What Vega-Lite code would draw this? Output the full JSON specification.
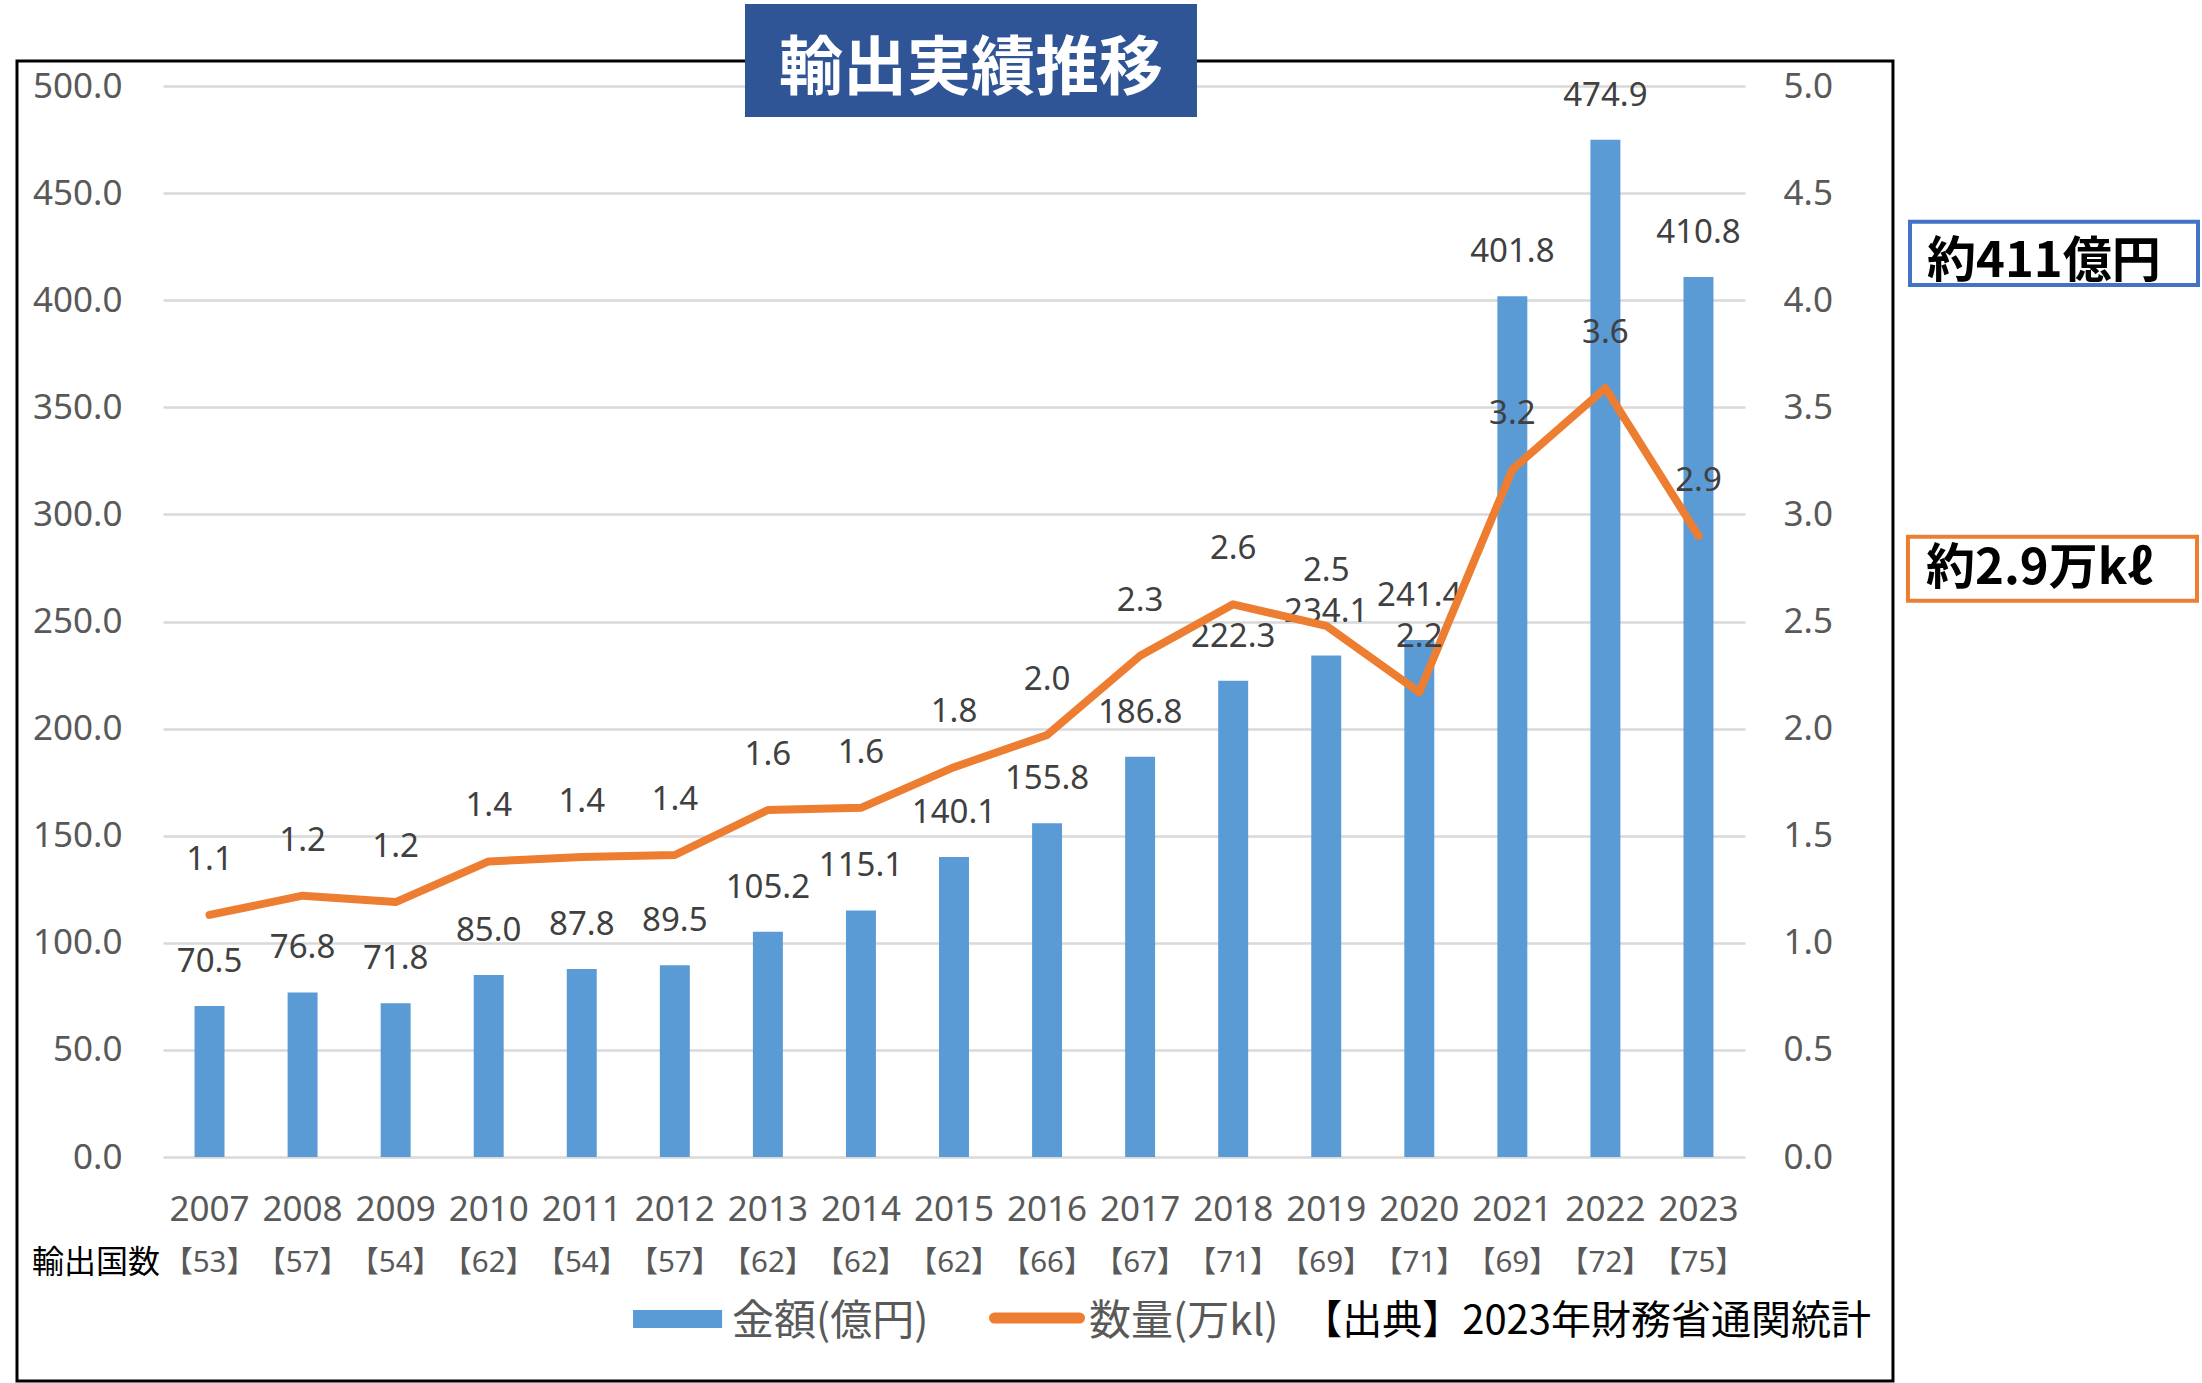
{
  "$schema": "https://vega.github.io/schema/vega-lite/v6.json",
  "width": 1582,
  "height": 1071,
  "autosize": {"type": "none"},
  "padding": {"left": 163, "top": 86, "right": 457, "bottom": 226},
  "background": "white",
  "config": {"view": {"stroke": null}, "font": "Noto Sans, Noto Sans CJK JP"},
  "layer": [
    {
      "data": {"values": [
        {"year": "2007", "amount": 70.5, "volume": 1.13, "countries": "【53】"},
        {"year": "2008", "amount": 76.8, "volume": 1.22, "countries": "【57】"},
        {"year": "2009", "amount": 71.8, "volume": 1.19, "countries": "【54】"},
        {"year": "2010", "amount": 85.0, "volume": 1.38, "countries": "【62】"},
        {"year": "2011", "amount": 87.8, "volume": 1.40, "countries": "【54】"},
        {"year": "2012", "amount": 89.5, "volume": 1.41, "countries": "【57】"},
        {"year": "2013", "amount": 105.2, "volume": 1.62, "countries": "【62】"},
        {"year": "2014", "amount": 115.1, "volume": 1.63, "countries": "【62】"},
        {"year": "2015", "amount": 140.1, "volume": 1.82, "countries": "【62】"},
        {"year": "2016", "amount": 155.8, "volume": 1.97, "countries": "【66】"},
        {"year": "2017", "amount": 186.8, "volume": 2.34, "countries": "【67】"},
        {"year": "2018", "amount": 222.3, "volume": 2.58, "countries": "【71】"},
        {"year": "2019", "amount": 234.1, "volume": 2.48, "countries": "【69】"},
        {"year": "2020", "amount": 241.4, "volume": 2.17, "countries": "【71】"},
        {"year": "2021", "amount": 401.8, "volume": 3.21, "countries": "【69】"},
        {"year": "2022", "amount": 474.9, "volume": 3.59, "countries": "【72】"},
        {"year": "2023", "amount": 410.8, "volume": 2.90, "countries": "【75】"}
      ]},
      "encoding": {
        "x": {
          "field": "year", "type": "nominal", "sort": null,
          "scale": {"paddingInner": 0.678, "paddingOuter": 0.339},
          "axis": {
            "title": null, "labelAngle": 0, "domain": false, "ticks": false, "tickSize": 0,
            "grid": false, "labelPadding": 35, "labelFontSize": 35, "labelColor": "#595959",
            "labelBaseline": "top", "labelOverlap": false, "labelBound": false, "labelFont": "Noto Sans"
          }
        }
      },
      "layer": [
        {
          "encoding": {
            "y": {
              "field": "amount", "type": "quantitative",
              "scale": {"domain": [0, 500], "nice": false, "zero": false},
              "axis": {
                "title": null, "orient": "left", "domain": false, "ticks": false, "tickSize": 0,
                "grid": true, "gridColor": "#D9D9D9", "gridWidth": 2.5,
                "values": [0, 50, 100, 150, 200, 250, 300, 350, 400, 450, 500],
                "format": ".1f", "labelFontSize": 35, "labelColor": "#595959",
                "labelPadding": 41, "labelFont": "Noto Sans"
              }
            }
          },
          "layer": [
            {"mark": {"type": "bar", "color": "#5B9BD5"}},
            {
              "mark": {"type": "text", "dy": -44, "fontSize": 33, "color": "#404040", "font": "Noto Sans"},
              "encoding": {"text": {"field": "amount", "type": "quantitative", "format": ".1f"}}
            }
          ]
        },
        {
          "encoding": {
            "y": {
              "field": "volume", "type": "quantitative",
              "scale": {"domain": [0, 5], "nice": false, "zero": false},
              "axis": {
                "title": null, "orient": "right", "domain": false, "ticks": false, "tickSize": 0,
                "grid": false, "values": [0, 0.5, 1, 1.5, 2, 2.5, 3, 3.5, 4, 4.5, 5],
                "format": ".1f", "labelFontSize": 35, "labelColor": "#595959",
                "labelPadding": 38, "labelFont": "Noto Sans"
              }
            }
          },
          "layer": [
            {"mark": {"type": "line", "color": "#ED7D31", "strokeWidth": 8, "strokeCap": "round", "strokeJoin": "round"}},
            {
              "mark": {"type": "text", "dy": -55, "fontSize": 33, "color": "#404040", "font": "Noto Sans"},
              "encoding": {"text": {"field": "volume", "type": "quantitative", "format": ".1f"}}
            }
          ]
        },
        {
          "mark": {"type": "text", "fontSize": 29.5, "color": "#595959", "font": "Noto Sans, Noto Sans CJK JP"},
          "encoding": {
            "y": {"datum": -49.5, "type": "quantitative", "scale": {"domain": [0, 500], "nice": false, "zero": false}, "axis": null},
            "text": {"field": "countries", "type": "nominal"}
          }
        }
      ],
      "resolve": {"scale": {"y": "independent"}}
    },
    {
      "data": {"values": [{}]},
      "layer": [
        {
          "mark": {"type": "rect", "filled": false, "color": "#000000", "strokeWidth": 3},
          "encoding": {
            "x": {"datum": -1.569, "type": "quantitative", "scale": {"domain": [0, 17], "nice": false, "zero": false}, "axis": null},
            "x2": {"datum": 18.59},
            "y": {"datum": 511.67, "type": "quantitative", "scale": {"domain": [0, 500], "nice": false, "zero": false}, "axis": null},
            "y2": {"datum": -104.57}
          }
        },
        {
          "mark": {"type": "rect", "color": "#2F5597"},
          "encoding": {
            "x": {"datum": 6.254, "type": "quantitative", "scale": {"domain": [0, 17], "nice": false, "zero": false}, "axis": null},
            "x2": {"datum": 11.111},
            "y": {"datum": 538.28, "type": "quantitative", "scale": {"domain": [0, 500], "nice": false, "zero": false}, "axis": null},
            "y2": {"datum": 485.53}
          }
        },
        {
          "mark": {"type": "text", "text": "輸出実績推移", "font": "Noto Sans CJK JP", "fontSize": 64, "fontWeight": "bold", "color": "#FFFFFF", "align": "center", "baseline": "middle"},
          "encoding": {
            "x": {"datum": 8.683, "type": "quantitative", "scale": {"domain": [0, 17], "nice": false, "zero": false}, "axis": null},
            "y": {"datum": 507.5, "type": "quantitative", "scale": {"domain": [0, 500], "nice": false, "zero": false}, "axis": null}
          }
        },
        {
          "mark": {"type": "rect", "fill": "#FFFFFF", "stroke": "#4472C4", "strokeWidth": 4},
          "encoding": {
            "x": {"datum": 18.773, "type": "quantitative", "scale": {"domain": [0, 17], "nice": false, "zero": false}, "axis": null},
            "x2": {"datum": 21.868},
            "y": {"datum": 436.6, "type": "quantitative", "scale": {"domain": [0, 500], "nice": false, "zero": false}, "axis": null},
            "y2": {"datum": 407.1}
          }
        },
        {
          "mark": {"type": "text", "text": "約411億円", "font": "Noto Sans CJK JP", "fontSize": 49, "fontWeight": "bold", "color": "#000000", "align": "left", "baseline": "middle"},
          "encoding": {
            "x": {"datum": 18.956, "type": "quantitative", "scale": {"domain": [0, 17], "nice": false, "zero": false}, "axis": null},
            "y": {"datum": 418.0, "type": "quantitative", "scale": {"domain": [0, 500], "nice": false, "zero": false}, "axis": null}
          }
        },
        {
          "mark": {"type": "rect", "fill": "#FFFFFF", "stroke": "#ED7D31", "strokeWidth": 4},
          "encoding": {
            "x": {"datum": 18.751, "type": "quantitative", "scale": {"domain": [0, 17], "nice": false, "zero": false}, "axis": null},
            "x2": {"datum": 21.857},
            "y": {"datum": 289.59, "type": "quantitative", "scale": {"domain": [0, 500], "nice": false, "zero": false}, "axis": null},
            "y2": {"datum": 259.71}
          }
        },
        {
          "mark": {"type": "text", "text": "約2.9万kℓ", "font": "Noto Sans CJK JP", "fontSize": 49, "fontWeight": "bold", "color": "#000000", "align": "left", "baseline": "middle"},
          "encoding": {
            "x": {"datum": 18.945, "type": "quantitative", "scale": {"domain": [0, 17], "nice": false, "zero": false}, "axis": null},
            "y": {"datum": 274.7, "type": "quantitative", "scale": {"domain": [0, 500], "nice": false, "zero": false}, "axis": null}
          }
        },
        {
          "mark": {"type": "text", "text": "輸出国数", "font": "Noto Sans CJK JP", "fontSize": 32, "color": "#000000", "align": "right", "baseline": "middle"},
          "encoding": {
            "x": {"datum": -0.032, "type": "quantitative", "scale": {"domain": [0, 17], "nice": false, "zero": false}, "axis": null},
            "y": {"datum": -49.49, "type": "quantitative", "scale": {"domain": [0, 500], "nice": false, "zero": false}, "axis": null}
          }
        },
        {
          "mark": {"type": "rect", "color": "#5B9BD5"},
          "encoding": {
            "x": {"datum": 5.051, "type": "quantitative", "scale": {"domain": [0, 17], "nice": false, "zero": false}, "axis": null},
            "x2": {"datum": 6.008},
            "y": {"datum": -71.43, "type": "quantitative", "scale": {"domain": [0, 500], "nice": false, "zero": false}, "axis": null},
            "y2": {"datum": -79.83}
          }
        },
        {
          "mark": {"type": "text", "text": "金額(億円)", "font": "Noto Sans CJK JP", "fontSize": 42, "color": "#595959", "align": "left", "baseline": "middle"},
          "encoding": {
            "x": {"datum": 6.114, "type": "quantitative", "scale": {"domain": [0, 17], "nice": false, "zero": false}, "axis": null},
            "y": {"datum": -77.03, "type": "quantitative", "scale": {"domain": [0, 500], "nice": false, "zero": false}, "axis": null}
          }
        },
        {
          "mark": {"type": "rule", "color": "#ED7D31", "strokeWidth": 11, "strokeCap": "round"},
          "encoding": {
            "x": {"datum": 8.935, "type": "quantitative", "scale": {"domain": [0, 17], "nice": false, "zero": false}, "axis": null},
            "x2": {"datum": 9.849},
            "y": {"datum": -75.16, "type": "quantitative", "scale": {"domain": [0, 500], "nice": false, "zero": false}, "axis": null}
          }
        },
        {
          "mark": {"type": "text", "text": "数量(万kl)", "font": "Noto Sans CJK JP", "fontSize": 42, "color": "#595959", "align": "left", "baseline": "middle"},
          "encoding": {
            "x": {"datum": 9.951, "type": "quantitative", "scale": {"domain": [0, 17], "nice": false, "zero": false}, "axis": null},
            "y": {"datum": -77.03, "type": "quantitative", "scale": {"domain": [0, 500], "nice": false, "zero": false}, "axis": null}
          }
        },
        {
          "mark": {"type": "text", "text": "【出典】2023年財務省通関統計", "font": "Noto Sans CJK JP", "fontSize": 40, "color": "#000000", "align": "right", "baseline": "middle"},
          "encoding": {
            "x": {"datum": 18.354, "type": "quantitative", "scale": {"domain": [0, 17], "nice": false, "zero": false}, "axis": null},
            "y": {"datum": -77.03, "type": "quantitative", "scale": {"domain": [0, 500], "nice": false, "zero": false}, "axis": null}
          }
        }
      ]
    }
  ],
  "resolve": {"scale": {"x": "independent", "y": "independent"}}
}
